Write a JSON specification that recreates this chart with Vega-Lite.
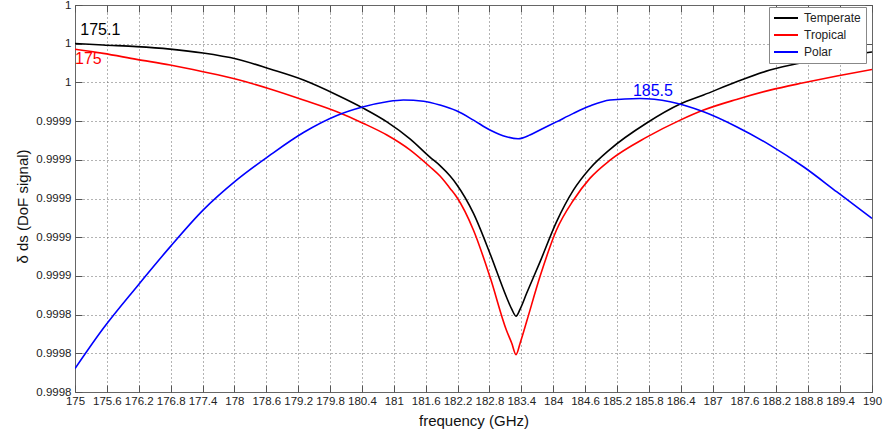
{
  "$schema": "https://vega.github.io/schema/vega-lite/v6.json",
  "width": 797,
  "height": 387,
  "autosize": "none",
  "padding": {"left": 75, "top": 5, "right": 11, "bottom": 46},
  "background": "white",
  "config": {
    "font": "Liberation Sans",
    "view": {"stroke": "#666", "strokeWidth": 1}
  },
  "datasets": {
    "curves": [
      {"series": "Temperate", "frequency": 175.00, "value": 0.9999801},
      {"series": "Temperate", "frequency": 175.53, "value": 0.9999793},
      {"series": "Temperate", "frequency": 176.16, "value": 0.9999785},
      {"series": "Temperate", "frequency": 176.79, "value": 0.9999772},
      {"series": "Temperate", "frequency": 177.41, "value": 0.9999752},
      {"series": "Temperate", "frequency": 178.04, "value": 0.9999721},
      {"series": "Temperate", "frequency": 178.67, "value": 0.9999669},
      {"series": "Temperate", "frequency": 179.30, "value": 0.9999612},
      {"series": "Temperate", "frequency": 179.93, "value": 0.9999535},
      {"series": "Temperate", "frequency": 180.43, "value": 0.9999466},
      {"series": "Temperate", "frequency": 180.87, "value": 0.9999396},
      {"series": "Temperate", "frequency": 181.31, "value": 0.9999307},
      {"series": "Temperate", "frequency": 181.68, "value": 0.9999214},
      {"series": "Temperate", "frequency": 181.87, "value": 0.9999170},
      {"series": "Temperate", "frequency": 182.06, "value": 0.9999116},
      {"series": "Temperate", "frequency": 182.18, "value": 0.9999074},
      {"series": "Temperate", "frequency": 182.50, "value": 0.9998923},
      {"series": "Temperate", "frequency": 182.81, "value": 0.9998716},
      {"series": "Temperate", "frequency": 183.12, "value": 0.9998491},
      {"series": "Temperate", "frequency": 183.22, "value": 0.9998428},
      {"series": "Temperate", "frequency": 183.30, "value": 0.9998392},
      {"series": "Temperate", "frequency": 183.38, "value": 0.9998430},
      {"series": "Temperate", "frequency": 183.50, "value": 0.9998510},
      {"series": "Temperate", "frequency": 183.75, "value": 0.9998671},
      {"series": "Temperate", "frequency": 184.06, "value": 0.9998878},
      {"series": "Temperate", "frequency": 184.38, "value": 0.9999043},
      {"series": "Temperate", "frequency": 184.69, "value": 0.9999155},
      {"series": "Temperate", "frequency": 185.07, "value": 0.9999254},
      {"series": "Temperate", "frequency": 185.76, "value": 0.9999390},
      {"series": "Temperate", "frequency": 186.39, "value": 0.9999488},
      {"series": "Temperate", "frequency": 186.83, "value": 0.9999535},
      {"series": "Temperate", "frequency": 187.45, "value": 0.9999603},
      {"series": "Temperate", "frequency": 188.08, "value": 0.9999664},
      {"series": "Temperate", "frequency": 188.65, "value": 0.9999700},
      {"series": "Temperate", "frequency": 189.34, "value": 0.9999731},
      {"series": "Temperate", "frequency": 190.00, "value": 0.9999757},
      {"series": "Tropical", "frequency": 175.00, "value": 0.9999771},
      {"series": "Tropical", "frequency": 175.53, "value": 0.9999750},
      {"series": "Tropical", "frequency": 176.16, "value": 0.9999719},
      {"series": "Tropical", "frequency": 176.79, "value": 0.9999690},
      {"series": "Tropical", "frequency": 177.41, "value": 0.9999655},
      {"series": "Tropical", "frequency": 178.04, "value": 0.9999616},
      {"series": "Tropical", "frequency": 178.67, "value": 0.9999566},
      {"series": "Tropical", "frequency": 179.30, "value": 0.9999509},
      {"series": "Tropical", "frequency": 179.93, "value": 0.9999448},
      {"series": "Tropical", "frequency": 180.43, "value": 0.9999388},
      {"series": "Tropical", "frequency": 180.87, "value": 0.9999328},
      {"series": "Tropical", "frequency": 181.31, "value": 0.9999250},
      {"series": "Tropical", "frequency": 181.68, "value": 0.9999164},
      {"series": "Tropical", "frequency": 181.87, "value": 0.9999116},
      {"series": "Tropical", "frequency": 182.06, "value": 0.9999052},
      {"series": "Tropical", "frequency": 182.18, "value": 0.9999009},
      {"series": "Tropical", "frequency": 182.50, "value": 0.9998836},
      {"series": "Tropical", "frequency": 182.81, "value": 0.9998595},
      {"series": "Tropical", "frequency": 183.12, "value": 0.9998319},
      {"series": "Tropical", "frequency": 183.22, "value": 0.9998252},
      {"series": "Tropical", "frequency": 183.30, "value": 0.9998193},
      {"series": "Tropical", "frequency": 183.38, "value": 0.9998255},
      {"series": "Tropical", "frequency": 183.50, "value": 0.9998364},
      {"series": "Tropical", "frequency": 183.75, "value": 0.9998595},
      {"series": "Tropical", "frequency": 184.06, "value": 0.9998836},
      {"series": "Tropical", "frequency": 184.38, "value": 0.9998991},
      {"series": "Tropical", "frequency": 184.69, "value": 0.9999104},
      {"series": "Tropical", "frequency": 185.07, "value": 0.9999198},
      {"series": "Tropical", "frequency": 185.76, "value": 0.9999317},
      {"series": "Tropical", "frequency": 186.39, "value": 0.9999405},
      {"series": "Tropical", "frequency": 186.83, "value": 0.9999457},
      {"series": "Tropical", "frequency": 187.45, "value": 0.9999512},
      {"series": "Tropical", "frequency": 188.08, "value": 0.9999560},
      {"series": "Tropical", "frequency": 188.71, "value": 0.9999598},
      {"series": "Tropical", "frequency": 189.34, "value": 0.9999633},
      {"series": "Tropical", "frequency": 190.00, "value": 0.9999667},
      {"series": "Polar", "frequency": 175.00, "value": 0.9998121},
      {"series": "Polar", "frequency": 175.53, "value": 0.9998328},
      {"series": "Polar", "frequency": 176.16, "value": 0.9998543},
      {"series": "Polar", "frequency": 176.79, "value": 0.9998750},
      {"series": "Polar", "frequency": 177.41, "value": 0.9998940},
      {"series": "Polar", "frequency": 178.04, "value": 0.9999095},
      {"series": "Polar", "frequency": 178.67, "value": 0.9999224},
      {"series": "Polar", "frequency": 179.30, "value": 0.9999341},
      {"series": "Polar", "frequency": 179.93, "value": 0.9999429},
      {"series": "Polar", "frequency": 180.43, "value": 0.9999474},
      {"series": "Polar", "frequency": 180.87, "value": 0.9999500},
      {"series": "Polar", "frequency": 181.18, "value": 0.9999509},
      {"series": "Polar", "frequency": 181.56, "value": 0.9999503},
      {"series": "Polar", "frequency": 181.87, "value": 0.9999483},
      {"series": "Polar", "frequency": 182.18, "value": 0.9999453},
      {"series": "Polar", "frequency": 182.50, "value": 0.9999405},
      {"series": "Polar", "frequency": 182.81, "value": 0.9999354},
      {"series": "Polar", "frequency": 183.12, "value": 0.9999319},
      {"series": "Polar", "frequency": 183.34, "value": 0.9999309},
      {"series": "Polar", "frequency": 183.56, "value": 0.9999328},
      {"series": "Polar", "frequency": 183.75, "value": 0.9999354},
      {"series": "Polar", "frequency": 184.06, "value": 0.9999396},
      {"series": "Polar", "frequency": 184.38, "value": 0.9999440},
      {"series": "Polar", "frequency": 184.69, "value": 0.9999478},
      {"series": "Polar", "frequency": 185.07, "value": 0.9999509},
      {"series": "Polar", "frequency": 185.63, "value": 0.9999517},
      {"series": "Polar", "frequency": 186.20, "value": 0.9999500},
      {"series": "Polar", "frequency": 186.83, "value": 0.9999448},
      {"series": "Polar", "frequency": 187.45, "value": 0.9999371},
      {"series": "Polar", "frequency": 188.08, "value": 0.9999276},
      {"series": "Polar", "frequency": 188.71, "value": 0.9999164},
      {"series": "Polar", "frequency": 189.34, "value": 0.9999034},
      {"series": "Polar", "frequency": 190.00, "value": 0.9998897}
    ],
    "notes": [
      {"series": "Temperate", "frequency": 175.1, "value": 0.9999873, "label": "175.1"},
      {"series": "Tropical", "frequency": 175.0, "value": 0.9999721, "label": "175"},
      {"series": "Polar", "frequency": 185.5, "value": 0.9999555, "label": "185.5"}
    ]
  },
  "layer": [
    {
      "data": {"name": "curves"},
      "mark": {"type": "line", "strokeWidth": 1.6, "clip": true, "interpolate": "monotone"},
      "encoding": {
        "x": {
          "field": "frequency", "type": "quantitative",
          "scale": {"domain": [175, 190], "nice": false, "zero": false},
          "axis": {
            "orient": "bottom",
            "values": [175, 175.6, 176.2, 176.8, 177.4, 178, 178.6, 179.2, 179.8, 180.4, 181, 181.6, 182.2, 182.8, 183.4, 184, 184.6, 185.2, 185.8, 186.4, 187, 187.6, 188.2, 188.8, 189.4, 190],
            "format": ".4~r",
            "grid": true, "gridDash": [1, 3], "gridColor": "#666", "gridWidth": 1,
            "domain": false,
            "ticks": true, "tickSize": -7, "tickColor": "#555",
            "labelPadding": 10, "labelFontSize": 11.5, "labelColor": "#222",
            "labelOverlap": false, "labelFlush": false, "labelBound": false,
            "title": "frequency (GHz)", "titleFontSize": 15, "titleFontWeight": "normal",
            "titleColor": "#111", "titleY": 28, "titleBaseline": "middle"
          }
        },
        "y": {
          "field": "value", "type": "quantitative",
          "scale": {"domain": [0.9998, 1.0], "nice": false, "zero": false},
          "axis": {
            "orient": "left",
            "values": [0.9998, 0.99982, 0.99984, 0.99986, 0.99988, 0.9999, 0.99992, 0.99994, 0.99996, 0.99998, 1],
            "format": ".4~r",
            "grid": true, "gridDash": [1, 3], "gridColor": "#666", "gridWidth": 1,
            "domain": false,
            "ticks": true, "tickSize": -7, "tickColor": "#555",
            "labelPadding": 11, "labelFontSize": 11.5, "labelColor": "#222",
            "labelOverlap": false, "labelFlush": false, "labelBound": false,
            "title": "δ ds (DoF signal)", "titleFontSize": 15, "titleFontWeight": "normal",
            "titleColor": "#111", "titleX": -53, "titleY": 201, "titleBaseline": "middle", "titleAlign": "center"
          }
        },
        "color": {
          "field": "series", "type": "nominal",
          "scale": {"domain": ["Temperate", "Tropical", "Polar"], "range": ["#000000", "#ff0000", "#0000ff"]},
          "legend": {
            "orient": "none", "legendX": 694, "legendY": 2, "title": null,
            "symbolType": "M-1.2,0H3.6", "symbolSize": 100, "symbolStrokeWidth": 2,
            "labelFontSize": 12, "labelColor": "#222", "labelOffset": 18,
            "fillColor": "white", "strokeColor": "#888", "padding": 5, "rowPadding": 5
          }
        }
      }
    },
    {
      "data": {"name": "notes"},
      "mark": {"type": "text", "fontSize": 16, "align": "left", "baseline": "middle"},
      "encoding": {
        "x": {
          "field": "frequency", "type": "quantitative",
          "axis": {
            "orient": "top",
            "values": [175, 175.6, 176.2, 176.8, 177.4, 178, 178.6, 179.2, 179.8, 180.4, 181, 181.6, 182.2, 182.8, 183.4, 184, 184.6, 185.2, 185.8, 186.4, 187, 187.6, 188.2, 188.8, 189.4, 190],
            "labels": false, "grid": false, "domain": false, "title": null,
            "ticks": true, "tickSize": -7, "tickColor": "#555"
          }
        },
        "y": {
          "field": "value", "type": "quantitative",
          "axis": {
            "orient": "right",
            "values": [0.9998, 0.99982, 0.99984, 0.99986, 0.99988, 0.9999, 0.99992, 0.99994, 0.99996, 0.99998, 1],
            "labels": false, "grid": false, "domain": false, "title": null,
            "ticks": true, "tickSize": -7, "tickColor": "#555"
          }
        },
        "color": {"field": "series", "type": "nominal"},
        "text": {"field": "label"}
      }
    }
  ],
  "resolve": {"axis": {"x": "independent", "y": "independent"}}
}
